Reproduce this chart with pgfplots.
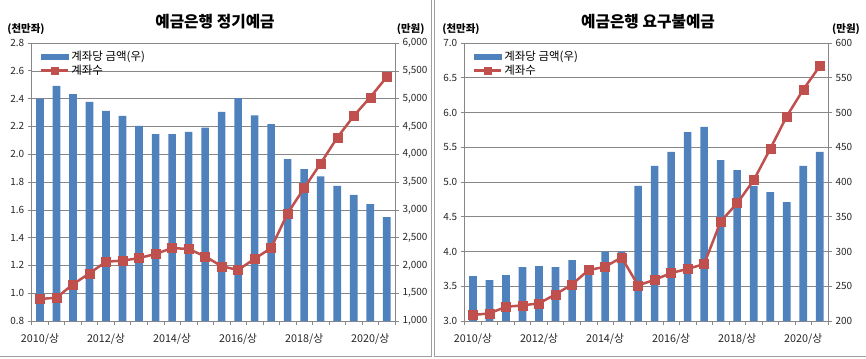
\documentclass[border=0pt]{standalone}
\usepackage{pgfplots}
\pgfplotsset{compat=1.18}
\usepackage{pgfplotstable}
\usepackage{fontspec}
\setmainfont{Noto Sans CJK KR}

\definecolor{barblue}{HTML}{4F81BD}
\definecolor{linered}{HTML}{C0504D}
\definecolor{gridgray}{HTML}{878787}

\pgfplotstableread{
x bar line
0 5000 0.958
1 5230 0.968
2 5080 1.064
3 4940 1.143
4 4780 1.227
5 4690 1.234
6 4510 1.253
7 4360 1.282
8 4360 1.325
9 4400 1.318
10 4480 1.265
11 4760 1.194
12 5010 1.167
13 4700 1.248
14 4540 1.325
15 3910 1.575
16 3730 1.757
17 3600 1.934
18 3430 2.119
19 3270 2.275
20 3100 2.410
21 2870 2.555
}\dataL

\pgfplotstableread{
x bar line
0 264.7 3.086
1 258.9 3.110
2 266.1 3.205
3 277.6 3.225
4 279.1 3.254
5 277.6 3.384
6 287.7 3.527
7 280.0 3.733
8 300.0 3.780
9 300.0 3.915
10 394.5 3.513
11 423.2 3.593
12 443.3 3.690
13 471.6 3.750
14 479.3 3.819
15 431.4 4.432
16 417.0 4.695
17 394.5 5.026
18 385.4 5.476
19 371.0 5.945
20 423.2 6.329
21 443.3 6.668
}\dataR

\pgfplotsset{
  base/.style={
    scale only axis, width=363.3bp, height=278bp,
    xmin=-0.5, xmax=21.5, anchor=south west,
    /pgf/number format/assume math mode=true,
    tick label style={font=\fontsize{10}{12}\selectfont, text=black!85},
    tick align=outside, major tick length=4bp,
    every tick/.style={gridgray, line width=0.6bp},
    axis line style={gridgray, line width=0.6bp},
  },
  barax/.style={
    base, axis y line*=right, axis x line*=bottom,
    ymajorgrids, major grid style={gridgray, line width=0.6bp},
    ybar, bar width=0.46,
    xtick={-0.5,0.5,...,21.5},
    xticklabels={2010/상,,,,2012/상,,,,2014/상,,,,2016/상,,,,2018/상,,,,2020/상,,},
    xticklabel style={xshift=8.26bp, yshift=-5bp, font=\fontsize{10.8}{12}\selectfont},
    yticklabel style={/pgf/number format/.cd, fixed, 1000 sep={,}},
  },
  lineax/.style={
    base, axis y line*=left, axis x line=none,
    yticklabel style={/pgf/number format/.cd, fixed, fixed zerofill, precision=1},
    legend style={at={(rel axis cs:0,1)}, anchor=north west, xshift=6bp, yshift=-4bp,
      draw=none, fill=none, font=\fontsize{11.5}{13}\selectfont,
      row sep=-1bp, inner sep=2bp},
    legend cell align=left,
  },
  redline/.style={linered, line width=2.5bp, mark=square*, mark size=4.5bp,
    mark options={fill=linered, draw=linered, line width=0.4bp},
    legend image code/.code={\draw[mark repeat=2,mark phase=2,#1, mark size=3.8bp] plot coordinates {(0bp,0bp) (13.5bp,0bp) (27bp,0bp)};}},
  barlegend/.style={legend image code/.code={\fill[barblue] (0bp,-2.6bp) rectangle (27bp,2.6bp);}},
}

\begin{document}
\begin{tikzpicture}[x=1bp,y=1bp]
\path[use as bounding box] (0,0) rectangle (866,358);
% panel frames
\draw[gridgray!80, line width=0.8bp] (0,1.3) -- (431.7,1.3) -- (431.7,358);
\draw[gridgray!80, line width=0.8bp] (434.3,358) -- (434.3,1.3) -- (866,1.3);

% ---------- left panel ----------
\begin{axis}[barax, at={(31.7bp,37bp)}, ymin=1000, ymax=6000, ytick distance=500]
\addplot[fill=barblue, draw=none] table[x=x,y=bar]{\dataL};
\end{axis}
\begin{axis}[lineax, at={(31.7bp,37bp)}, ymin=0.8, ymax=2.8, ytick distance=0.2]
\addlegendimage{barlegend}
\addlegendentry{계좌당 금액(우)}
\addplot[redline] table[x=x,y=line]{\dataL};
\addlegendentry{계좌수}
\end{axis}
\node[font=\fontsize{15.8}{18}\selectfont\bfseries] at (215,336) {예금은행 정기예금};
\node[font=\fontsize{10.5}{12}\selectfont\bfseries] at (26,329) {(천만좌)};
\node[font=\fontsize{10.5}{12}\selectfont\bfseries] at (410.7,329) {(만원)};

% ---------- right panel ----------
\begin{axis}[barax, at={(464.7bp,37bp)}, ymin=200, ymax=600, ytick distance=50]
\addplot[fill=barblue, draw=none] table[x=x,y=bar]{\dataR};
\end{axis}
\begin{axis}[lineax, at={(464.7bp,37bp)}, ymin=3, ymax=7, ytick distance=0.5]
\addlegendimage{barlegend}
\addlegendentry{계좌당 금액(우)}
\addplot[redline] table[x=x,y=line]{\dataR};
\addlegendentry{계좌수}
\end{axis}
\node[font=\fontsize{15.8}{18}\selectfont\bfseries] at (648,336) {예금은행 요구불예금};
\node[font=\fontsize{10.5}{12}\selectfont\bfseries] at (461,329) {(천만좌)};
\node[font=\fontsize{10.5}{12}\selectfont\bfseries] at (846,329) {(만원)};
\end{tikzpicture}
\end{document}
